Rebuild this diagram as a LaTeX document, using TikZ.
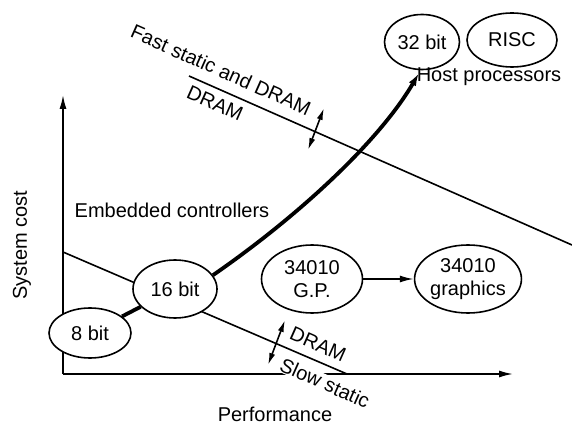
\documentclass[tikz,border=0pt]{standalone}
\usepackage{fontspec}
\setmainfont{Liberation Sans}
\usepackage{tikz}
\usetikzlibrary{arrows.meta, shapes.geometric}

\begin{document}
\begin{tikzpicture}[x=1pt, y=-1pt, font=\fontsize{20}{23}\selectfont,
        chip/.style = {draw, ellipse, line width=1.6pt, fill=white, inner sep=0pt, align=center},
        thin/.style = {line width=1.6pt},
        thick/.style = {line width=3.8pt},
        tip/.style = {-{Latex[length=14pt, width=7pt]}},
        both/.style = {{Latex[length=12pt, width=6pt]}-{Latex[length=12pt, width=6pt]}}]
    \useasboundingbox (0,0) rectangle (572,427);

    % axes and cost lines
    \coordinate (O) at (63,374);
    \coordinate (ytop) at (63,95);
    \coordinate (xend) at (513,374);
    \coordinate (embstart) at (63,252);
    \coordinate (embjoin) at (347,374);
    \coordinate (faststart) at (189,76);
    \coordinate (fastend) at (572,245);
    \draw[thin, tip] (O) -- (ytop);
    \draw[thin, tip] (O) -- (xend);
    \draw[thin] (embstart) -- (embjoin);
    \draw[thin] (faststart) -- (fastend);

    % processors
    \node[chip, minimum width=82pt, minimum height=50pt] (eight) at (90,333) {8 bit};
    \node[chip, minimum width=84pt, minimum height=58pt] (sixteen) at (175,289) {16 bit};
    \node[chip, minimum width=101pt, minimum height=68pt] (gp) at (312,279) {34010\\G.P.};
    \node[chip, minimum width=103pt, minimum height=68pt] (gfx) at (468,279) {34010\\graphics};
    \node[chip, minimum width=75pt, minimum height=55pt] (thirtytwo) at (422,42) {32 bit};
    \node[chip, minimum width=90pt, minimum height=54pt] (risc) at (512,40) {RISC};

    \node (host) at (489,77) {Host processors};
    \node (emb) at (172,210) {Embedded controllers};
    \node[rotate=90] (ylabel) at (22,245) {System cost};
    \node[anchor=base, inner sep=1pt] (xlabel) at (275,421) {Performance};
    \node[rotate=-24] (fast) at (221,70) {Fast static and DRAM};
    \node[rotate=-24] (dramhi) at (215,103) {DRAM};
    \node[rotate=-24] (dramlo) at (318,344) {DRAM};
    \node[rotate=-24, fill=white, inner sep=1pt] (slow) at (325,383) {Slow static};

    % growth path
    \coordinate (hosttip) at (419,73);
    \draw[thick] (eight) -- (sixteen);
    \draw[thick, -{Latex[length=13pt, width=8pt]}] (sixteen.20) .. controls (300,215) and (380,140) .. (hosttip);
    \draw[thin, tip] (gp) -- (gfx);

    % memory moves
    \coordinate (fa) at (324,108);
    \coordinate (fb) at (308,150);
    \coordinate (sa) at (285,320);
    \coordinate (sb) at (268,365);
    \draw[thin, both] (fa) -- (fb);
    \draw[thin, both] (sa) -- (sb);
\end{tikzpicture}
\end{document}
